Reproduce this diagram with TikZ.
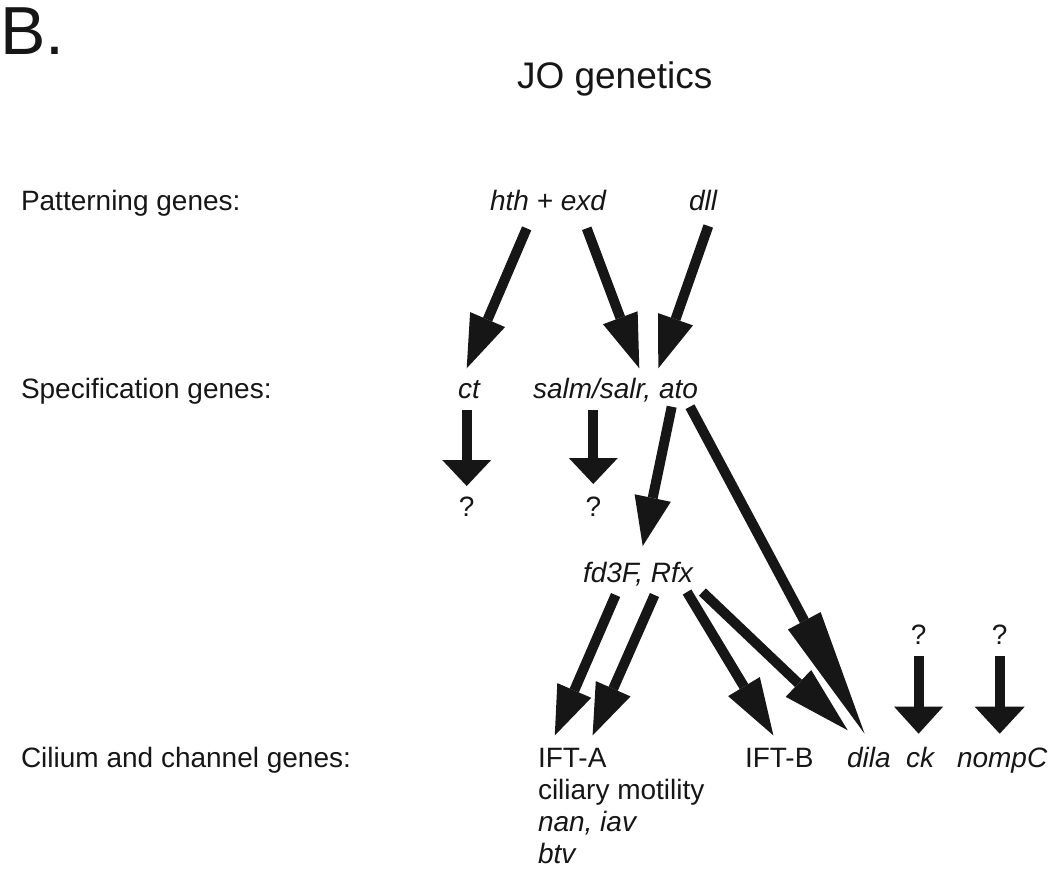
\documentclass[tikz,border=0pt]{standalone}
\usepackage{fontspec}
\setmainfont{Liberation Sans}
\usetikzlibrary{arrows.meta}
\definecolor{ink}{RGB}{22,22,22}
\tikzset{
  lbl/.style={anchor=base west, inner sep=0pt, outer sep=0pt, text=ink, font=\fontsize{28}{32}\selectfont},
  gene/.style={lbl, font=\fontsize{28}{32}\selectfont\itshape},
  qm/.style={anchor=base, inner sep=0pt, text=ink, font=\fontsize{28}{32}\selectfont},
  arr/.style 2 args={draw=ink, line width=10pt, -{Triangle[length=#1pt,width=#2pt,line width=0pt]}},
}
\begin{document}
\begin{tikzpicture}[x=1pt,y=-1pt]
\useasboundingbox (0,0) rectangle (1050,868);
% titles
\node[anchor=base west, inner sep=0pt, text=ink, font=\fontsize{68}{74}\selectfont] (B) at (0,54) {B.};
\node[lbl, font=\fontsize{37}{42}\selectfont] (title) at (517,88) {JO genetics};
% row labels
\node[lbl] (pat) at (21,210) {Patterning genes:};
\node[lbl] (spec) at (21,398) {Specification genes:};
\node[lbl] (cil) at (21,767) {Cilium and channel genes:};
% row 1
\node[gene] (hth) at (490,210) {hth + exd};
\node[gene] (dll) at (689,210) {dll};
% row 2
\node[gene] (ct) at (458,398) {ct};
\node[gene] (salm) at (533,398) {salm/salr, ato};
\node[qm] (q1) at (466.7,516) {?};
\node[qm] (q2) at (593.3,516) {?};
\node[gene] (fd) at (583,582) {fd3F, Rfx};
% row 3
\node[lbl] (ifta) at (538,767) {IFT-A};
\node[lbl] (cm) at (538,799) {ciliary motility};
\node[gene] (nan) at (538,831) {nan, iav};
\node[gene] (btv) at (538,863) {btv};
\node[lbl] (iftb) at (745,767) {IFT-B};
\node[gene] (dila) at (847,767) {dila};
\node[gene] (ck) at (906,767) {ck};
\node[gene] (nompc) at (957,767) {nompC};
\node[qm] (q3) at (918.6,644) {?};
\node[qm] (q4) at (999.7,644) {?};
% arrow end points
\coordinate (hthA) at (526.7,228.3);
\coordinate (ctT) at (466.7,368.3);
\coordinate (exdA) at (586.7,228.3);
\coordinate (salmT) at (639.3,368.3);
\coordinate (dllA) at (708.3,226);
\coordinate (atoT) at (658.3,368.3);
\coordinate (ctA) at (466.7,410);
\coordinate (q1T) at (466.7,486);
\coordinate (salmA) at (593.3,410);
\coordinate (q2T) at (593.3,484);
\coordinate (atoA) at (671.7,406.7);
\coordinate (fdT) at (642.7,546);
\coordinate (atoB) at (690,406.7);
\coordinate (dilaT) at (864.6,733.7);
\coordinate (fdA) at (615.6,595);
\coordinate (iftaT1) at (554.8,735.4);
\coordinate (fdB) at (654.5,595);
\coordinate (iftaT2) at (592.6,735.4);
\coordinate (fdC) at (687,592);
\coordinate (iftbT) at (773.4,735.4);
\coordinate (fdD) at (702.4,592);
\coordinate (dilaT2) at (847.7,730.3);
\coordinate (q3A) at (918.6,656);
\coordinate (ckT) at (918.6,733.7);
\coordinate (q4A) at (999.7,656);
\coordinate (nompT) at (999.7,733.7);
% arrows
\draw[arr={53}{38}] (hthA) -- (ctT);
\draw[arr={54}{37}] (exdA) -- (salmT);
\draw[arr={52}{37}] (dllA) -- (atoT);
\draw[arr={26}{49}] (ctA) -- (q1T);
\draw[arr={26}{49}] (salmA) -- (q2T);
\draw[arr={49}{37}] (atoA) -- (fdT);
\draw[arr={128}{37}] (atoB) -- (dilaT);
\draw[arr={49}{37}] (fdA) -- (iftaT1);
\draw[arr={51}{38}] (fdB) -- (iftaT2);
\draw[arr={57}{37}] (fdC) -- (iftbT);
\draw[arr={68}{37}] (fdD) -- (dilaT2);
\draw[arr={27}{49}] (q3A) -- (ckT);
\draw[arr={27}{50}] (q4A) -- (nompT);
\end{tikzpicture}
\end{document}
